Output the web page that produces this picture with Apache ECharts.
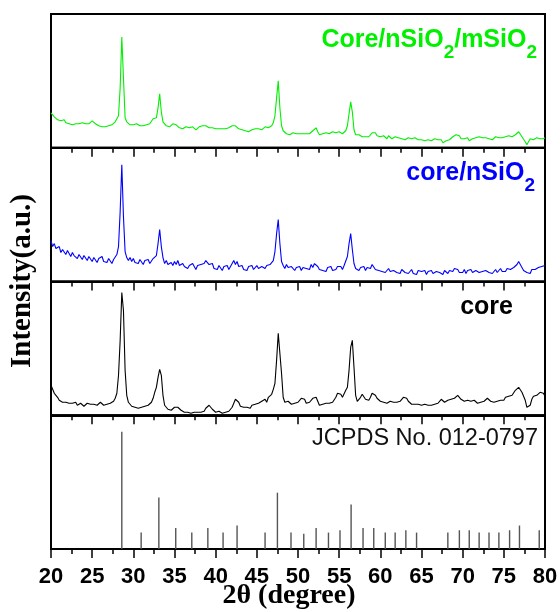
<!DOCTYPE html>
<html>
<head>
<meta charset="utf-8">
<script src="https://cdn.jsdelivr.net/npm/echarts@6/dist/echarts.min.js"></script>
<style>
  html, body { margin: 0; padding: 0; background: #fff; }
  #chart { width: 560px; height: 612px; }
</style>
</head>
<body>
<div id="chart"></div>
<script>
// XRD scans: 2θ from 20° to 80°, one reading every 0.2°
const SCAN_START = 20;
const SCAN_STEP = 0.2;

// x axis range and tick spacing (degrees)
const X_MIN = 20, X_MAX = 80, X_INTERVAL = 5;

// Core/nSiO2/mSiO2 (a.u.), one row per 5°
const coreNSiO2MSiO2 = [
  35,33,31,30,28, 29,27,26,28,25, 26,24,25,23,25, 24,22,24,23,25, 23,24,22,24,26,
  27,26,24,23,22, 23,21,22,21,23, 22,24,23,24,26, 27,32,60,111,70, 30,26,24,23,24,
  23,22,24,23,22, 23,22,24,23,25, 24,26,29,27,30, 40,54,36,26,24, 22,23,21,22,24,
  25,23,21,20,21, 19,20,21,19,20, 19,21,20,18,20, 21,20,22,23,22, 21,20,19,20,18,
  19,18,19,17,19, 18,19,18,20,21, 22,23,22,20,19, 17,18,16,17,18, 16,17,18,17,19,
  18,19,20,18,19, 21,19,20,21,22, 25,32,50,67,40, 22,17,15,14,15, 13,14,15,13,14,
  15,14,13,14,15, 14,13,14,15,17, 19,20,16,13,12, 14,13,15,16,14, 15,16,14,15,17,
  16,15,14,15,17, 22,34,46,36,18, 13,12,13,12,11, 12,11,12,11,13, 15,17,15,12,10,
  11,10,12,11,9, 12,11,9,10,11, 9,10,8,9,10, 8,9,10,8,9, 8,10,9,8,9,
  8,9,7,9,8, 9,7,8,9,7, 8,6,8,5,3, 7,9,8,10,11, 12,13,14,12,9,
  7,9,11,10,7, 6,9,8,10,12, 11,9,10,12,10, 11,9,10,8,10, 11,9,10,12,10,
  9,11,10,12,10, 11,12,13,14,16, 14,11,9,6,3, 5,9,11,8,6, 10,11,9,10,9,
  10
];

// core/nSiO2 (a.u.)
const coreNSiO2 = [
  41,35,38,33,31, 35,29,32,30,27, 31,28,25,29,26, 28,23,27,25,22, 26,24,21,25,23,
  20,24,22,19,23, 21,25,20,22,19, 23,21,18,22,24, 27,35,70,117,65, 30,24,21,24,20,
  23,19,21,18,22, 20,17,21,19,22, 18,20,23,21,26, 38,52,35,24,18, 21,17,15,19,16,
  20,17,21,16,14, 18,15,17,13,16, 14,18,15,12,16, 14,17,15,18,21, 22,17,15,18,13,
  15,12,16,14,11, 15,13,16,12,15, 18,21,17,20,15, 13,16,12,14,11, 15,13,16,12,14,
  16,13,11,15,17, 13,16,14,17,15, 21,30,48,62,38, 20,16,13,17,14, 12,15,13,11,14,
  12,15,11,14,16, 13,15,12,17,14, 18,19,15,12,14, 11,13,10,14,12, 15,11,13,12,15,
  13,15,12,16,18, 25,38,48,32,18, 13,15,11,14,12, 15,11,14,16,13, 17,15,12,14,11,
  13,10,12,9,11, 13,10,8,11,12, 9,11,8,12,10, 9,11,8,10,12, 8,10,7,11,9,
  10,8,11,7,10, 9,11,8,7,10, 12,9,10,7,11, 9,8,11,12,10, 13,11,12,9,11,
  9,12,8,11,10, 12,9,8,11,12, 9,11,10,8,11, 12,9,11,8,10, 12,9,11,13,10,
  12,10,13,11,12, 10,14,13,17,20, 17,14,11,12,9, 11,8,12,10,12, 11,14,12,15,13,
  16
];

// core (a.u.)
const coreOnly = [
  30,26,22,20,18, 15,14,13,12,13, 11,12,10,12,11, 13,10,11,12,10, 9,11,12,10,11,
  9,11,12,10,11, 13,11,10,12,11, 13,12,10,14,17, 22,40,75,123,105, 45,20,13,11,9,
  10,8,9,7,9, 8,10,9,8,10, 11,13,17,23,28, 38,46,40,20,10, 8,6,7,5,7,
  8,9,8,7,5, 4,3,5,3,4, 2,4,3,5,3, 4,3,5,4,7, 9,10,8,6,4,
  3,2,4,3,2, 4,3,5,4,6, 8,12,16,17,13, 9,7,8,6,8, 9,7,10,9,11,
  10,12,11,14,12, 16,13,18,19,21, 26,32,55,82,84, 42,18,13,12,14, 12,11,13,12,14,
  13,15,17,18,16, 12,11,13,15,17, 19,18,14,10,9, 11,10,12,13,12, 14,13,15,18,22,
  23,21,18,19,25, 28,45,68,75,48, 20,14,15,18,21, 20,16,14,15,18, 22,23,20,17,16,
  14,15,13,14,12, 13,14,12,13,11, 13,12,14,16,18, 19,17,14,12,11, 12,11,10,11,9,
  10,9,11,9,10, 11,10,12,11,13, 12,14,16,15,13, 14,15,14,16,15, 17,19,20,18,16,
  15,14,16,15,17, 14,13,15,14,12, 14,13,15,14,16, 17,15,14,16,13, 15,14,16,15,17,
  15,18,16,19,17, 20,22,25,27,28, 26,23,21,15,8, 6,10,16,19,21, 20,22,23,21,22,
  19
];

// Reference pattern JCPDS No. 012-0797: line positions (2θ) and relative intensities
const refPositions = [
  28.6, 30.95, 33.1, 35.15, 37.1, 39.05, 40.9, 42.6, 46.0, 47.5, 49.15,
  50.7, 52.2, 53.7, 55.1, 56.45, 57.9, 59.2, 60.6, 61.8, 63.1, 64.4,
  68.2, 69.6, 70.8, 72.0, 73.2, 74.4, 75.7, 76.9, 79.3
];
const refIntensities = [
  100, 14, 44, 18, 14, 18, 14, 20, 14, 48, 14,
  13, 18, 14, 16, 38, 18, 18, 14, 14, 16, 14,
  14, 16, 16, 14, 14, 14, 16, 20, 16
];

const SAMPLE_NAMES = ['Core/nSiO2/mSiO2', 'core/nSiO2', 'core'];
const SAMPLE_COLORS = ['#00f000', '#0000ff', '#000000'];
const REF_COLOR = '#555555';

function toPairs(values) {
  return values.map((v, i) => [+(SCAN_START + i * SCAN_STEP).toFixed(2), v]);
}
const refPairs = refPositions.map((x, i) => [x, refIntensities[i]]);

// four stacked panels sharing the 2θ scale
const PANEL_TOP = 14;
const PANEL_H = 133.75;
const grids = [], xAxes = [], yAxes = [];
for (let i = 0; i < 4; i++) {
  grids.push({
    left: 51, right: 15, top: PANEL_TOP + i * PANEL_H, height: PANEL_H,
    show: true, borderColor: '#000', borderWidth: 2,
    backgroundColor: 'transparent', containLabel: false, outerBoundsMode: 'none'
  });
  xAxes.push({
    gridIndex: i, type: 'value', min: X_MIN, max: X_MAX, interval: X_INTERVAL,
    axisLine: { show: true, onZero: false, lineStyle: { color: '#000', width: 2 } },
    axisTick: { show: true, inside: false, length: 9, lineStyle: { color: '#000', width: 1.5 } },
    minorTick: { show: true, splitNumber: 2, length: 5, lineStyle: { color: '#000', width: 1.5 } },
    splitLine: { show: false },
    minorSplitLine: { show: false },
    axisLabel: {
      show: i === 3, color: '#000', fontFamily: 'Liberation Sans', fontWeight: 'bold',
      fontSize: 22, margin: 17
    }
  });
  yAxes.push({ gridIndex: i, type: 'value', min: 0, max: i === 3 ? 114 : 134, show: false });
}

const patterns = [coreNSiO2MSiO2, coreNSiO2, coreOnly];
const series = patterns.map((vals, i) => ({
  name: SAMPLE_NAMES[i], type: 'line', xAxisIndex: i, yAxisIndex: i,
  data: toPairs(vals), showSymbol: false, symbol: 'none',
  lineStyle: { color: SAMPLE_COLORS[i], width: 1.1 }, z: 3
}));
series.push({
  name: 'JCPDS No. 012-0797', type: 'bar', xAxisIndex: 3, yAxisIndex: 3,
  data: refPairs, barWidth: 1.4, itemStyle: { color: REF_COLOR }, z: 3
});

function sampleLabel(x, y, text, color) {
  const font = { fontFamily: 'Liberation Sans', fontWeight: 'bold', fill: color };
  return {
    type: 'text', x: x, y: y, z: 10,
    style: {
      text: text, align: 'right', verticalAlign: 'top',
      rich: {
        m: Object.assign({ fontSize: 25, lineHeight: 26, verticalAlign: 'top', color: color }, font),
        s: Object.assign({ fontSize: 19, lineHeight: 19, padding: [16, 0, 0, 0], verticalAlign: 'top', color: color }, font)
      }
    }
  };
}

const option = {
  animation: false,
  backgroundColor: '#fff',
  grid: grids,
  xAxis: xAxes,
  yAxis: yAxes,
  series: series,
  graphic: [
    sampleLabel(537, 27.5, '{m|Core/nSiO}{s|2}{m|/mSiO}{s|2}', SAMPLE_COLORS[0]),
    sampleLabel(535, 160.5, '{m|core/nSiO}{s|2}', SAMPLE_COLORS[1]),
    sampleLabel(513, 294.5, '{m|core}', SAMPLE_COLORS[2]),
    {
      type: 'text', x: 538, y: 439, z: 10,
      style: {
        text: 'JCPDS No. 012-0797', align: 'right', verticalAlign: 'middle',
        fontFamily: 'Liberation Sans', fontSize: 23.5, fill: '#111'
      }
    },
    {
      type: 'text', x: 23, y: 281, rotation: Math.PI / 2, z: 10,
      style: {
        text: 'Intensity(a.u.)', align: 'center', verticalAlign: 'middle',
        fontFamily: 'Liberation Serif', fontWeight: 'bold', fontSize: 29, fill: '#000'
      }
    },
    {
      type: 'text', x: 289, y: 595.5, z: 10,
      style: {
        text: '2θ (degree)', align: 'center', verticalAlign: 'middle',
        fontFamily: 'Liberation Serif', fontWeight: 'bold', fontSize: 28, fill: '#000'
      }
    }
  ]
};

const chart = echarts.init(document.getElementById('chart'), null, { renderer: 'canvas' });
chart.setOption(option);
</script>
</body>
</html>
